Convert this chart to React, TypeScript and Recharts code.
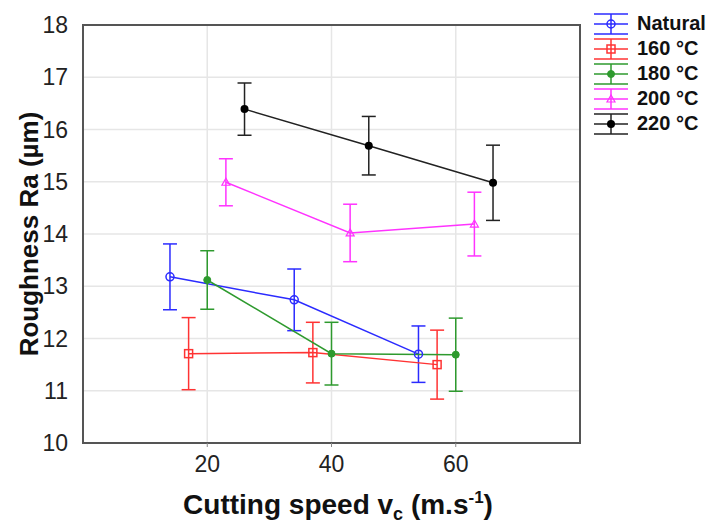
import { LineChart, Line, XAxis, YAxis, CartesianGrid, ErrorBar, ReferenceArea } from "recharts";

// cutting speed (m/s), mean Ra (µm) and error half-width for each temperature
const speedNatural = [14, 34, 54];
const raNatural = [13.18, 12.74, 11.7];
const errNatural = [0.63, 0.59, 0.54];

const speed160 = [17, 37, 57];
const ra160 = [11.71, 11.73, 11.5];
const err160 = [0.69, 0.58, 0.66];

const speed180 = [20, 40, 60];
const ra180 = [13.12, 11.71, 11.69];
const err180 = [0.56, 0.6, 0.7];

const speed200 = [23, 43, 63];
const ra200 = [14.99, 14.02, 14.19];
const err200 = [0.45, 0.55, 0.61];

const speed220 = [26, 46, 66];
const ra220 = [16.39, 15.69, 14.98];
const err220 = [0.5, 0.56, 0.72];

const xTicks = [20, 40, 60];
const yTicks = [10, 11, 12, 13, 14, 15, 16, 17, 18];

const toRows = (xs: number[], ys: number[], es: number[]) =>
  xs.map((x, i) => ({ x, y: ys[i], err: es[i] }));

type Marker = "circle" | "square" | "dot" | "triangle" | "filled";

const series: { name: string; color: string; marker: Marker; data: { x: number; y: number; err: number }[] }[] = [
  { name: "Natural", color: "#2b2bff", marker: "circle", data: toRows(speedNatural, raNatural, errNatural) },
  { name: "160 °C", color: "#ff3333", marker: "square", data: toRows(speed160, ra160, err160) },
  { name: "180 °C", color: "#2e9a2e", marker: "dot", data: toRows(speed180, ra180, err180) },
  { name: "200 °C", color: "#ff33ff", marker: "triangle", data: toRows(speed200, ra200, err200) },
  { name: "220 °C", color: "#222222", marker: "filled", data: toRows(speed220, ra220, err220) },
];

function markerShape(marker: Marker, color: string, cx: number, cy: number, key?: string) {
  switch (marker) {
    case "circle":
      return <circle key={key} cx={cx} cy={cy} r={4} fill="none" stroke={color} strokeWidth={1.5} />;
    case "square":
      return <rect key={key} x={cx - 4} y={cy - 4} width={8} height={8} fill="none" stroke={color} strokeWidth={1.5} />;
    case "dot":
      return <circle key={key} cx={cx} cy={cy} r={3.5} fill={color} stroke={color} strokeWidth={1} />;
    case "triangle":
      return (
        <polygon
          key={key}
          points={`${cx},${cy - 4} ${cx - 4},${cy + 3} ${cx + 4},${cy + 3}`}
          fill="none"
          stroke={color}
          strokeWidth={1.2}
        />
      );
    default:
      return <circle key={key} cx={cx} cy={cy} r={4} fill="#000" />;
  }
}

const axisFont = { fontFamily: "Arial, 'Liberation Sans', sans-serif", fontSize: 23, fill: "#222" };

function LegendBox() {
  return (
    <div style={{ position: "absolute", left: 593, top: 11 }}>
      {series.map((s) => (
        <div key={s.name} style={{ display: "flex", alignItems: "center", height: 25 }}>
          <svg width={36} height={24} style={{ display: "block" }}>
            <line x1={1} x2={35} y1={2} y2={2} stroke={s.color} strokeWidth={1.5} />
            <line x1={1} x2={35} y1={12} y2={12} stroke={s.color} strokeWidth={1.5} />
            <line x1={1} x2={35} y1={22} y2={22} stroke={s.color} strokeWidth={1.5} />
            <line x1={18} x2={18} y1={2} y2={22} stroke={s.color} strokeWidth={1.5} />
            {markerShape(s.marker, s.color, 18, 12)}
          </svg>
          <span
            style={{
              marginLeft: 8,
              fontFamily: "Arial, 'Liberation Sans', sans-serif",
              fontWeight: "bold",
              fontSize: 20,
              color: "#111",
              whiteSpace: "nowrap",
            }}
          >
            {s.name}
          </span>
        </div>
      ))}
    </div>
  );
}

export default function App() {
  return (
    <div style={{ position: "absolute", left: 0, top: 0, width: 710, height: 525, background: "#fff" }}>
      <LineChart width={710} height={525} margin={{ top: 25, right: 130, bottom: 22, left: 0 }}>
        <CartesianGrid stroke="#e6e6e6" strokeWidth={1.5} />
        <XAxis
          type="number"
          dataKey="x"
          domain={[0, 80]}
          ticks={xTicks}
          height={60}
          axisLine={{ stroke: "#555", strokeWidth: 2 }}
          tickLine={{ stroke: "#888" }}
          tickSize={4}
          tickMargin={9}
          tick={axisFont}
          label={{
            content: () => (
              <text
                x={338}
                y={514}
                textAnchor="middle"
                fontFamily="Arial, 'Liberation Sans', sans-serif"
                fontWeight="bold"
                fontSize={28}
                fill="#111"
              >
                Cutting speed v
                <tspan fontSize={18} dy={6}>c</tspan>
                <tspan dy={-6}> (m.s</tspan>
                <tspan fontSize={17} dy={-11}>-1</tspan>
                <tspan dy={11}>)</tspan>
              </text>
            ),
          }}
        />
        <YAxis
          type="number"
          domain={[10, 18]}
          ticks={yTicks}
          width={83}
          allowDataOverflow
          axisLine={{ stroke: "#555", strokeWidth: 2 }}
          tickLine={false}
          tickMargin={9}
          tick={axisFont}
          label={{
            content: () => (
              <text
                x={38}
                y={234}
                transform="rotate(-90 38 234)"
                textAnchor="middle"
                fontFamily="Arial, 'Liberation Sans', sans-serif"
                fontWeight="bold"
                fontSize={26}
                fill="#111"
              >
                Roughness Ra (µm)
              </text>
            ),
          }}
        />
        <ReferenceArea x1={0} x2={80} y1={10} y2={18} fill="none" stroke="#555" strokeWidth={2} />
        {series.map((s) => (
          <Line
            key={s.name}
            data={s.data}
            dataKey="y"
            name={s.name}
            stroke={s.color}
            strokeWidth={1.5}
            isAnimationActive={false}
            dot={(p: any) => markerShape(s.marker, s.color, p.cx, p.cy, `${s.name}-${p.index}`)}
            activeDot={false}
          >
            <ErrorBar dataKey="err" direction="y" width={7} stroke={s.color} strokeWidth={1.5} isAnimationActive={false} />
          </Line>
        ))}
      </LineChart>
      <LegendBox />
    </div>
  );
}
